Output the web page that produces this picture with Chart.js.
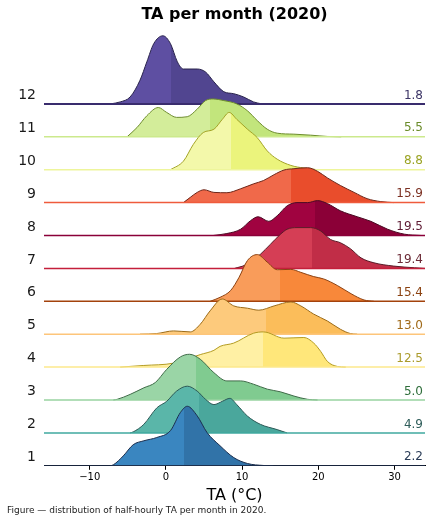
<!DOCTYPE html>
<html>
<head>
    <title>TA per month (2020)</title>
    <script src="https://cdn.jsdelivr.net/npm/chart.js"></script>
    <style>
        body { margin: 0; background: #fff; }
        #wrap { position: relative; width: 431px; height: 523px; }
        #caption { position: absolute; left: 7px; top: 505px; font: 9px "DejaVu Sans"; line-height: 11px; color: #222; white-space: nowrap; }
    </style>
</head>
<body>
    <div id="wrap">
        <canvas id="ridgeChart" width="431" height="523"></canvas>
        <div id="caption">Figure — distribution of half-hourly TA per month in 2020.</div>
    </div>

    <script>
        // month labels, bottom (1) to top (12)
        const months = ['1', '2', '3', '4', '5', '6', '7', '8', '9', '10', '11', '12'];
        const means = [2.2, 4.9, 5.0, 12.5, 13.0, 15.4, 19.4, 19.5, 15.9, 8.8, 5.5, 1.8];
        const medians = [2.4, 4.3, 4.0, 12.8, 13.1, 15.0, 19.2, 19.6, 16.4, 8.6, 5.8, 0.7];
        const tickValues = [-10, 0, 10, 20, 30];

        // density curves: [TA, height in row units]
        const kde1 = [[-7.3,0],[-6.9,0.03],[-5.6,0.30],[-4.3,0.64],[-2.9,0.76],[-1.2,0.86],[0.6,1.07],[1.9,1.62],[2.8,1.81],[4.1,1.52],[5.4,1.01],[7.1,0.61],[8.9,0.25],[10.7,0.07],[12.8,0.01],[14.1,0]];
        const kde2 = [[-4.7,0],[-4.3,0.03],[-2.9,0.26],[-1.2,0.76],[0.1,0.96],[1.4,1.27],[2.8,1.42],[4.1,1.27],[5.2,1.02],[6.3,0.86],[7.4,0.96],[8.4,1.05],[9.3,0.86],[10.7,0.51],[12.4,0.26],[14.6,0.10],[15.9,0]];
        const kde3 = [[-6.9,0],[-6.4,0.02],[-4.7,0.17],[-2.9,0.37],[-1.4,0.53],[0.1,0.93],[1.9,1.31],[3.1,1.39],[4.5,1.24],[6.3,0.83],[8.0,0.58],[9.8,0.58],[11.5,0.48],[13.3,0.33],[15.0,0.25],[16.8,0.12],[18.6,0.02],[19.9,0]];
        const kde4 = [[-6.0,0],[-2.9,0.05],[1.0,0.12],[4.5,0.38],[6.3,0.51],[7.1,0.63],[8.9,0.73],[11.5,1.03],[12.8,1.07],[15.5,0.88],[18.1,0.90],[19.4,0.73],[20.3,0.48],[21.2,0.17],[22.5,0.02],[23.6,0]];
        const kde5 = [[-3.4,0],[-1.2,0.02],[1.0,0.10],[3.2,0.07],[4.5,0.30],[5.8,0.71],[7.4,1.07],[8.9,0.86],[10.7,0.79],[12.2,0.73],[14.2,0.86],[16.4,0.98],[17.7,0.86],[19.4,0.61],[21.2,0.40],[22.9,0.15],[24.2,0.02],[25.1,0]];
        const kde6 = [[5.8,0],[7.1,0.12],[8.5,0.33],[9.6,0.73],[10.7,1.24],[12.0,1.42],[13.3,1.19],[14.6,0.96],[16.4,0.97],[17.7,0.88],[19.4,0.75],[20.7,0.68],[22.5,0.48],[24.3,0.23],[26.0,0.04],[27.3,0]];
        const kde7 = [[9.0,0],[10.4,0.10],[11.4,0.25],[12.4,0.43],[13.7,0.73],[15.0,1.03],[15.9,1.19],[17.2,1.24],[19.0,1.24],[20.3,1.14],[21.6,0.88],[22.9,0.78],[24.2,0.60],[25.6,0.32],[27.3,0.17],[29.9,0.07],[32.6,0.02],[34.0,0]];
        const kde8 = [[6.2,0],[8.0,0.06],[9.8,0.19],[11.1,0.45],[12.1,0.57],[13.5,0.43],[14.6,0.60],[15.9,0.90],[17.2,1.00],[18.6,1.00],[19.9,1.06],[21.2,0.97],[22.9,0.75],[25.1,0.57],[26.9,0.43],[29.1,0.19],[31.3,0.04],[33.5,0]];
        const kde9 = [[2.3,0],[3.2,0.16],[4.1,0.31],[5.0,0.39],[6.3,0.31],[8.0,0.30],[9.8,0.42],[11.5,0.57],[12.8,0.67],[14.2,0.85],[15.5,0.99],[16.8,1.03],[18.6,1.06],[19.9,0.95],[21.2,0.75],[22.9,0.52],[24.7,0.31],[26.4,0.12],[28.2,0.03],[29.9,0]];
        const kde10 = [[0.6,0],[2.3,0.26],[3.6,0.77],[4.9,1.13],[6.3,1.23],[7.4,1.53],[8.3,1.74],[9.3,1.53],[10.7,1.23],[12.0,0.97],[13.3,0.57],[14.6,0.32],[16.4,0.13],[18.1,0.05],[19.9,0]];
        const kde11 = [[-5.1,0],[-3.8,0.28],[-2.5,0.64],[-1.0,0.89],[0.1,0.74],[1.4,0.59],[2.8,0.61],[4.1,0.84],[5.2,1.10],[6.2,1.15],[7.6,1.10],[9.3,1.00],[10.7,0.79],[12.0,0.49],[13.3,0.23],[14.6,0.11],[16.8,0.08],[19.0,0.05],[21.2,0.01],[23.0,0]];
        const kde12 = [[-7.3,0],[-6.0,0.06],[-4.7,0.21],[-3.4,0.72],[-2.5,1.28],[-1.6,1.83],[-0.4,2.07],[0.6,1.83],[1.5,1.28],[2.3,1.06],[4.1,1.06],[5.2,0.97],[6.3,0.67],[7.6,0.37],[8.9,0.31],[10.2,0.21],[11.5,0.06],[12.6,0]];
        const curves = [kde1, kde2, kde3, kde4, kde5, kde6, kde7, kde8, kde9, kde10, kde11, kde12];

        const fillLeft = ['#3a86c0', '#5ab6a9', '#9ad5a6', '#fff0a4', '#fdca7c', '#f99c5a', '#d53e55', '#a00340', '#f0694a', '#f3f8aa', '#d3ed9a', '#5e4fa2'];
        const fillRight = ['#3173a8', '#4aa79c', '#80cb90', '#ffe77a', '#fbbd5a', '#f8883a', '#c12d47', '#8b0037', '#e94d2c', '#ebf47c', '#c2e57c', '#514590'];
        const edgeColors = ['#1d2f4e', '#2d5a57', '#3f6b48', '#b39b22', '#9b6a16', '#8c4212', '#5a1c28', '#4a0b22', '#6c2619', '#a3a326', '#6d8c2c', '#29234c'];
        const baseColors = ['#1f2f4f', '#3fa89f', '#98d3a0', '#fde98c', '#fdc57a', '#a3420c', '#c41f3b', '#8a0039', '#ef5b3c', '#eef59b', '#cce98d', '#392c6d'];
        const labelColors = ['#2a3c57', '#2f5d5a', '#2f6e3b', '#ab9b2c', '#a06a19', '#8b4211', '#6b2a36', '#5e1b34', '#7b2f21', '#9aa322', '#6b8c2a', '#3c3566'];

        const X_MIN = -16, X_MAX = 34;

        // hard colour change at the median
        function splitFill(i) {
            return (ctx) => {
                const chart = ctx.chart;
                const area = chart.chartArea;
                if (!area || !chart.scales.x) return fillLeft[i];
                const xm = chart.scales.x.getPixelForValue(medians[i]);
                const t = Math.min(1, Math.max(0, (xm - area.left) / (area.right - area.left)));
                const g = chart.ctx.createLinearGradient(area.left, 0, area.right, 0);
                g.addColorStop(0, fillLeft[i]);
                g.addColorStop(t, fillLeft[i]);
                g.addColorStop(t, fillRight[i]);
                g.addColorStop(1, fillRight[i]);
                return g;
            };
        }

        const datasets = [];
        curves.forEach((kde, i) => {
            datasets.push({
                label: 'base ' + months[i],
                data: [{ x: X_MIN, y: i }, { x: X_MAX, y: i }],
                borderColor: baseColors[i],
                borderWidth: i === 11 ? 2 : 1.5,
                pointRadius: 0,
                fill: false,
                order: 2 * i
            });
            datasets.push({
                label: months[i],
                data: kde.map(([t, d]) => ({ x: t, y: i + d })),
                borderColor: edgeColors[i],
                borderWidth: 1,
                backgroundColor: splitFill(i),
                pointRadius: 0,
                cubicInterpolationMode: 'monotone',
                fill: { value: i },
                order: 2 * i + 1
            });
        });

        const rowLabels = {
            id: 'rowLabels',
            afterDatasetsDraw(chart) {
                const c = chart.ctx;
                const y = chart.scales.y;
                const area = chart.chartArea;
                c.save();
                c.textBaseline = 'middle';
                months.forEach((m, i) => {
                    const py = y.getPixelForValue(i) - 8.5;
                    c.font = '14px "DejaVu Sans"';
                    c.fillStyle = '#1a1a1a';
                    c.textAlign = 'right';
                    c.fillText(m, 36, py);
                    c.font = '12px "DejaVu Sans"';
                    c.fillStyle = labelColors[i];
                    c.fillText(means[i].toFixed(1), area.right - 2, py);
                });
                c.restore();
            }
        };

        new Chart(document.getElementById('ridgeChart'), {
            type: 'line',
            data: { datasets },
            options: {
                responsive: false,
                animation: false,
                layout: { padding: { left: 44, right: 6, top: 0, bottom: 14 } },
                plugins: {
                    legend: { display: false },
                    tooltip: { enabled: false },
                    title: {
                        display: true,
                        text: 'TA per month (2020)',
                        color: '#000',
                        font: { family: 'DejaVu Sans', size: 16, weight: 'bold' },
                        padding: { top: 5, bottom: 6 }
                    }
                },
                scales: {
                    x: {
                        type: 'linear',
                        min: X_MIN,
                        max: X_MAX,
                        afterBuildTicks: (axis) => { axis.ticks = tickValues.map(v => ({ value: v })); },
                        grid: { drawOnChartArea: false, drawTicks: true, tickLength: 4, color: '#000' },
                        border: { display: true, color: '#000', width: 1 },
                        ticks: {
                            color: '#000',
                            padding: 2,
                            maxRotation: 0,
                            font: { family: 'DejaVu Sans', size: 10 },
                            callback: (v) => v < 0 ? '\u2212' + Math.abs(v) : String(v)
                        },
                        title: {
                            display: true,
                            text: 'TA (°C)',
                            color: '#000',
                            font: { family: 'DejaVu Sans', size: 16 },
                            padding: { top: 0, bottom: 4 }
                        }
                    },
                    y: {
                        type: 'linear',
                        display: false,
                        min: 0,
                        max: 13.24
                    }
                }
            },
            plugins: [rowLabels]
        });
    </script>
</body>
</html>
